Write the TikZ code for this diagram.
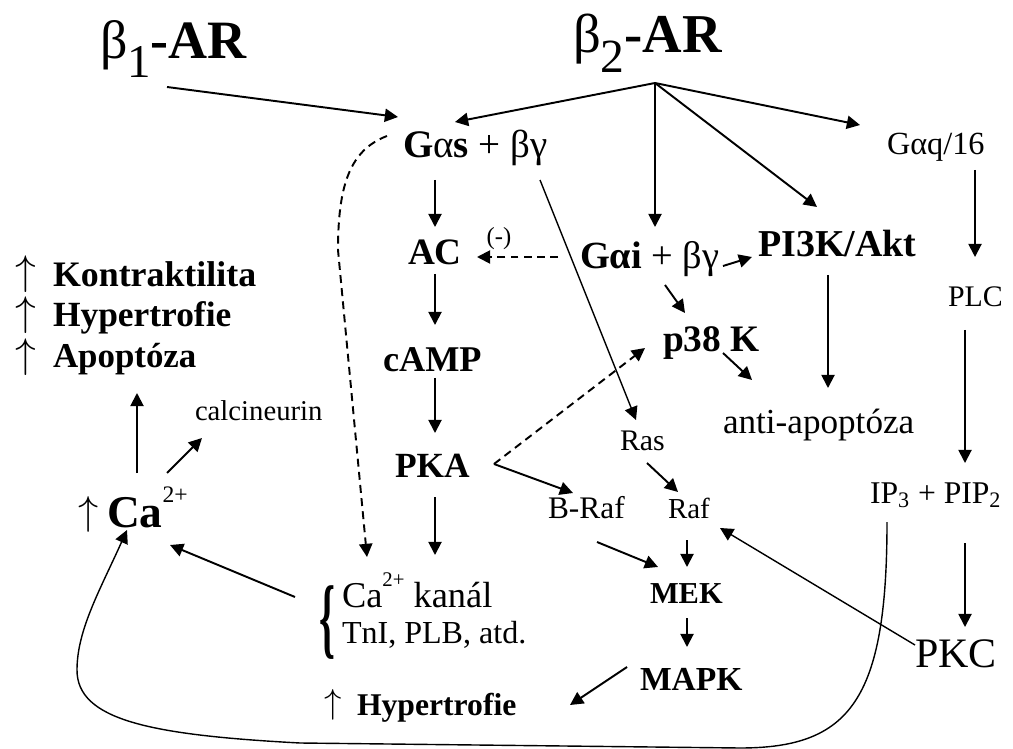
\documentclass[tikz,border=0pt]{standalone}
\usepackage{fontspec}
\setmainfont{Liberation Serif}
\usepackage{graphicx}
\usetikzlibrary{arrows.meta}
\newdimen\pxu \pxu=0.5669pt
\newcommand\fw[2]{\resizebox{#1\pxu}{!}{#2}}
\newcommand\fs[1]{\fontsize{#1}{#1}\selectfont}
\newcommand\upar[1]{\resizebox*{!}{#1\pxu}{$\uparrow$}}
\begin{document}
\begin{tikzpicture}[x=0.02cm,y=-0.02cm,
  lbl/.style={inner sep=0pt,outer sep=0pt,anchor=base west},
  uplbl/.style={inner sep=0pt,outer sep=0pt,anchor=south west},
  arr/.style={line width=1.1pt,-{Triangle[length=7.5pt,width=7.5pt]}},
  thinarr/.style={line width=0.8pt,-{Triangle[length=7.5pt,width=7.5pt]}},
  dsh/.style={arr,dash pattern=on 4.5pt off 3pt}]
\useasboundingbox (0,0) rectangle (1013,749);
% nodes
\node[lbl,font=\fs{23}] (b1) at (100,59) {\fw{148}{β\raisebox{-0.35em}{\fs{20}1}\textbf{-AR}}};
\node[lbl,font=\fs{23}] (b2) at (573,53) {\fw{150}{β\raisebox{-0.35em}{\fs{20}2}\textbf{-AR}}};
\node[uplbl] (u1) at (15,293) {\upar{37}};
\node[uplbl] (u2) at (15,334) {\upar{37}};
\node[uplbl] (u3) at (15,376) {\upar{37}};
\node[lbl,font=\fs{18}] (k1) at (53,287) {\fw{204}{\textbf{Kontraktilita}}};
\node[lbl,font=\fs{18}] (k2) at (53,327) {\fw{179}{\textbf{Hypertrofie}}};
\node[lbl,font=\fs{18}] (k3) at (53,368) {\fw{144}{\textbf{Apoptóza}}};
\node[lbl,font=\fs{20.5}] (gas) at (403,158) {\fw{145}{\textbf{G}α\textbf{s} + βγ}};
\node[lbl,font=\fs{17.5}] (gaq) at (887,155) {\fw{98}{Gαq/16}};
\node[lbl,font=\fs{21}] (ac) at (408,265) {\fw{54}{\textbf{AC}}};
\node[font=\fs{14},inner sep=0pt] (neg) at (499,239) {(-)};
\node[lbl,font=\fs{20.5}] (gai) at (580,269) {\fw{140}{\textbf{Gαi} + βγ}};
\node[lbl,font=\fs{20.5}] (pi3k) at (758,257) {\fw{159}{\textbf{PI3K/Akt}}};
\node[lbl,font=\fs{21}] (p38) at (663,352) {\fw{97}{\textbf{p38 K}}};
\node[lbl,font=\fs{21.5}] (camp) at (383,372) {\fw{99}{\textbf{cAMP}}};
\node[lbl,font=\fs{21}] (pka) at (395,477) {\fw{75}{\textbf{PKA}}};
\node[lbl,font=\fs{16}] (calc) at (195,420) {\fw{128}{calcineurin}};
\node[uplbl] (u4) at (78,532) {\upar{36}};
\node[lbl,font=\fs{25}] (ca) at (107,527) {\fw{81}{\textbf{Ca}\raisebox{0.55em}{\fs{13}2+}}};
\node[lbl,font=\fs{18}] (anti) at (723,433) {\fw{192}{anti-apoptóza}};
\node[lbl,font=\fs{16.5}] (ras) at (620,450) {\fw{45}{Ras}};
\node[lbl,font=\fs{18}] (plc) at (948,307) {\fw{55}{PLC}};
\node[lbl,font=\fs{17}] (ip3) at (870,503) {\fw{132}{IP\textsubscript{3} + PIP\textsubscript{2}}};
\node[lbl,font=\fs{17.5}] (braf) at (548,518) {\fw{77}{B-Raf}};
\node[lbl,font=\fs{17.5}] (raf) at (668,518) {\fw{42}{Raf}};
\node[lbl,font=\fs{17}] (mek) at (650,603) {\fw{73}{\textbf{MEK}}};
\node[lbl,font=\fs{19.5}] (mapk) at (640,690) {\fw{103}{\textbf{MAPK}}};
\node[lbl,font=\fs{18}] (pkc) at (915,667) {\fw{82}{PKC}};
\node[lbl,font=\fs{17.5}] (ch1) at (342,607) {\fw{151}{Ca\raisebox{0.55em}{\fs{10}2+} kanál}};
\node[lbl,font=\fs{17.5}] (ch2) at (342,643) {\fw{185}{TnI, PLB, atd.}};
\node[inner sep=0pt,anchor=west] (brace) at (319,623) {\resizebox*{16\pxu}{74\pxu}{\textbf{\{}}};
\node[uplbl] (u5) at (324,720) {\upar{31}};
\node[lbl,font=\fs{18.5}] (hyp) at (357,715) {\fw{160}{\textbf{Hypertrofie}}};
% connectors
\draw[arr] ([shift={(67,28)}]b1.base west) -- ([shift={(-5,-41)}]gas.base west);
\coordinate (apex) at ([shift={(82,30)}]b2.base west);
\draw[arr] (apex) -- ([shift={(52,-36)}]gas.base west);
\draw[arr] (apex) -- ([shift={(75,-42)}]gai.base west);
\draw[arr] (apex) -- ([shift={(59,-50)}]pi3k.base west);
\draw[arr] (apex) -- ([shift={(-27,-30)}]gaq.base west);
\draw[arr] ([shift={(32,22)}]gas.base west) -- ([shift={(27,-38)}]ac.base west);
\draw[arr] ([shift={(27,9)}]ac.base west) -- ([shift={(52,-47)}]camp.base west);
\draw[arr] ([shift={(52,6)}]camp.base west) -- ([shift={(40,-44)}]pka.base west);
\draw[arr] ([shift={(40,20)}]pka.base west) -- ([shift={(93,-52)}]ch1.base west);
\draw[dsh] ([shift={(-22,-12)}]gai.base west) -- ([shift={(69,-8)}]ac.base west);
\draw[arr] ([shift={(143,-3)}]gai.base west) -- ([shift={(-6,0)}]pi3k.base west);
\draw[arr] ([shift={(85,16)}]gai.base west) -- ([shift={(22,-39)}]p38.base west);
\draw[arr] ([shift={(60,1)}]p38.base west) -- ([shift={(29,-53)}]anti.base west);
\draw[arr] ([shift={(70,18)}]pi3k.base west) -- ([shift={(105,-45)}]anti.base west);
\draw[arr] ([shift={(88,15)}]gaq.base west) -- ([shift={(27,-50)}]plc.base west);
\draw[arr] ([shift={(17,23)}]plc.base west) -- ([shift={(95,-40)}]ip3.base west);
\draw[arr] ([shift={(95,40)}]ip3.base west) -- ([shift={(50,-40)}]pkc.base west);
\draw[thinarr] ([shift={(0,-22)}]pkc.base west) -- ([shift={(52,10)}]raf.base west);
\draw[thinarr] ([shift={(137,22)}]gas.base west) -- ([shift={(16,-30)}]ras.base west);
\draw[arr] ([shift={(27,13)}]ras.base west) -- ([shift={(10,-26)}]raf.base west);
\coordinate (pkaj) at ([shift={(99,-13)}]pka.base west);
\draw[arr] (pkaj) -- ([shift={(25,-25)}]braf.base west);
\draw[dsh] (pkaj) -- ([shift={(-18,-4)}]p38.base west);
\draw[arr] ([shift={(49,24)}]braf.base west) -- ([shift={(8,-36)}]mek.base west);
\draw[arr] ([shift={(19,22)}]raf.base west) -- ([shift={(37,-36)}]mek.base west);
\draw[arr] ([shift={(37,15)}]mek.base west) -- ([shift={(47,-43)}]mapk.base west);
\draw[arr] ([shift={(-13,-23)}]mapk.base west) -- ([shift={(213,-10)}]hyp.base west);
\draw[arr] ([shift={(-47,-10)}]ch1.base west) -- ([shift={(63,18)}]ca.base west);
\draw[arr] ([shift={(30,-54)}]ca.base west) -- ([shift={(84,25)}]k3.base west);
\draw[arr] ([shift={(60,-54)}]ca.base west) -- ([shift={(7,18)}]calc.base west);
\draw[dsh] ([shift={(-16,-22)}]gas.base west) .. controls (350,150) and (338,185) .. (338,250) -- ([shift={(25,-50)}]ch1.base west);
\draw[thinarr] ([shift={(17,19)}]ip3.base west) .. controls (887,700) and (850,748) .. (740,748) -- (300,743) .. controls (150,735) and (77,720) .. (77,670) .. controls (77,630) and (100,590) .. ([shift={(20,3)}]ca.base west);
\end{tikzpicture}
\end{document}
